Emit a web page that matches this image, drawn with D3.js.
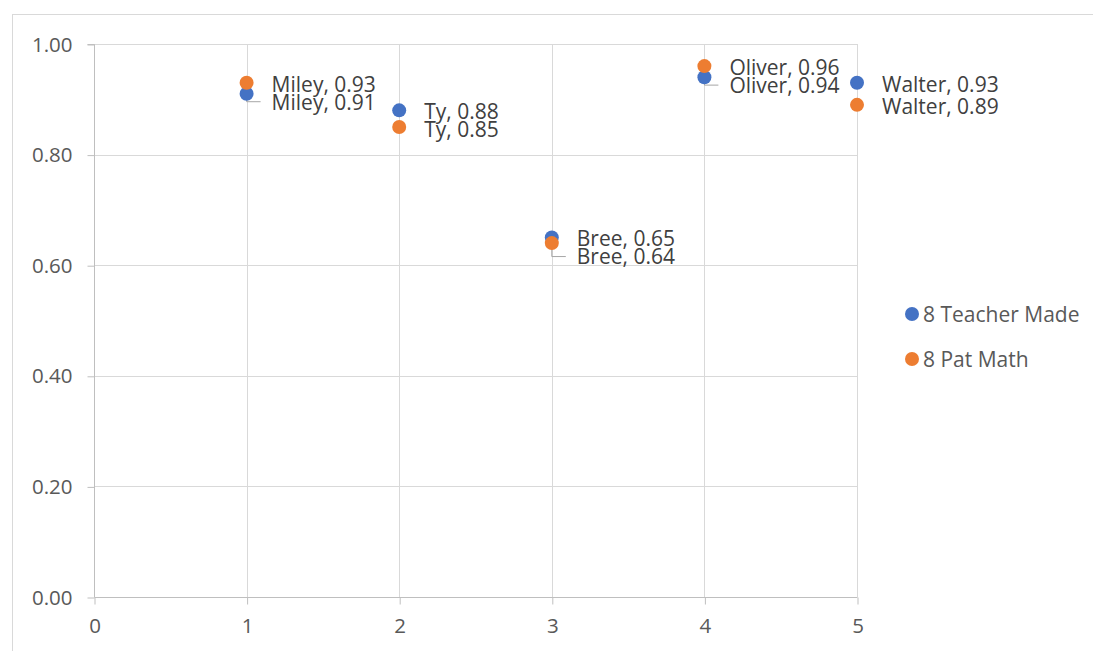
<!DOCTYPE html>
<html>
<head>
<meta charset="utf-8">
<script src="https://cdn.jsdelivr.net/npm/d3@7"></script>
<style>
  html, body { margin: 0; padding: 0; background: #fff; }
  svg { display: block; font-family: "Open Sans", sans-serif; }
</style>
</head>
<body>
<svg id="chart" width="1093" height="651"></svg>
<script>
// ---- data ----
const names = ["Miley", "Ty", "Bree", "Oliver", "Walter"];
const xValues = [1, 2, 3, 4, 5];
const teacherMade = [0.91, 0.88, 0.65, 0.94, 0.93];
const patMath = [0.93, 0.85, 0.64, 0.96, 0.89];
const seriesNames = ["8 Teacher Made", "8 Pat Math"];
const seriesColors = ["#4472C4", "#ED7D31"];
const xTicks = [0, 1, 2, 3, 4, 5];
const yTicks = [0, 0.2, 0.4, 0.6, 0.8, 1.0];

// ---- layout ----
const svg = d3.select("#chart");
const W = 1093, H = 651;
const plot = { left: 94, right: 857, top: 44, bottom: 597 };
const FONT = "'Open Sans', sans-serif";

svg.append("rect").attr("x", 12.5).attr("y", 14.5).attr("width", W + 20).attr("height", H + 20)
  .attr("fill", "#fff").attr("stroke", "#d9d9d9").attr("stroke-width", 1);

const x = d3.scaleLinear().domain([0, 5]).range([plot.left, plot.right]);
const y = d3.scaleLinear().domain([0, 1]).range([plot.bottom, plot.top]);

// gridlines
const grid = svg.append("g");
grid.selectAll("line.h").data(yTicks.filter(d => d > 0)).join("line")
  .attr("x1", plot.left).attr("x2", plot.right)
  .attr("y1", d => Math.round(y(d)) + 0.5).attr("y2", d => Math.round(y(d)) + 0.5)
  .attr("stroke", "#d9d9d9").attr("stroke-width", 1);
grid.selectAll("line.v").data(xTicks.filter(d => d > 0)).join("line")
  .attr("y1", plot.top).attr("y2", plot.bottom)
  .attr("x1", d => Math.round(x(d)) + 0.5).attr("x2", d => Math.round(x(d)) + 0.5)
  .attr("stroke", "#d9d9d9").attr("stroke-width", 1);

// axes
const yAxis = d3.axisLeft(y).tickValues(yTicks).tickFormat(d3.format(".2f")).tickSize(7).tickPadding(15);
const xAxis = d3.axisBottom(x).tickValues(xTicks).tickFormat(d3.format("d")).tickSize(7).tickPadding(14);

const gy = svg.append("g").attr("transform", `translate(${plot.left + 0.5},0.5)`).call(yAxis);
const gx = svg.append("g").attr("transform", `translate(0.5,${plot.bottom + 0.5})`).call(xAxis);
[gx, gy].forEach(g => {
  g.select(".domain").attr("stroke", "#bfbfbf");
  g.selectAll(".tick line").attr("stroke", "#bfbfbf");
  g.selectAll(".tick text").attr("fill", "#595959").attr("font-size", 20.5).attr("font-family", FONT);
});
gy.select(".domain").attr("d", `M-7,${y(1)}H0V${y(0)}`);
gx.select(".domain").attr("d", `M${x(0)},0H${x(5)}`);

// points + labels
const series = [teacherMade, patMath];
const pts = [];
series.forEach((vals, si) => {
  vals.forEach((v, i) => {
    pts.push({ si, name: names[i], xv: xValues[i], v, px: x(xValues[i]), py: y(v) });
  });
});

// label layout: right of point, push down overlapping ones in each column
const minGap = 18;
d3.groups(pts, d => d.xv).forEach(([, grp]) => {
  grp.sort((a, b) => a.py - b.py);
  let last = -Infinity;
  grp.forEach(p => {
    p.ly = Math.max(p.py, last + minGap);
    last = p.ly;
  });
});

const labelOffset = 25;
// leader lines
svg.append("g").selectAll("path").data(pts.filter(p => p.ly - p.py > 3)).join("path")
  .attr("d", p => `M${p.px},${p.py}V${p.ly + 1}H${p.px + 14}`)
  .attr("fill", "none").attr("stroke", "#a6a6a6").attr("stroke-width", 1);

svg.append("g").selectAll("circle").data(pts).join("circle")
  .attr("cx", p => p.px).attr("cy", p => p.py).attr("r", 7)
  .attr("fill", p => seriesColors[p.si]);

svg.append("g").selectAll("text").data(pts).join("text")
  .attr("x", p => p.px + labelOffset).attr("y", p => p.ly + 1.5)
  .attr("dy", "0.35em")
  .attr("font-size", 21).attr("fill", "#404040")
  .text(p => `${p.name}, ${p.v.toFixed(2)}`);

// legend
const lg = svg.append("g").selectAll("g").data(seriesNames).join("g")
  .attr("transform", (d, i) => `translate(912,${314 + i * 45})`);
lg.append("circle").attr("r", 7).attr("fill", (d, i) => seriesColors[i]);
lg.append("text").attr("x", 11).attr("y", 1).attr("dy", "0.35em").attr("font-size", 21)
  .attr("fill", "#595959").text(d => d);
</script>
</body>
</html>
